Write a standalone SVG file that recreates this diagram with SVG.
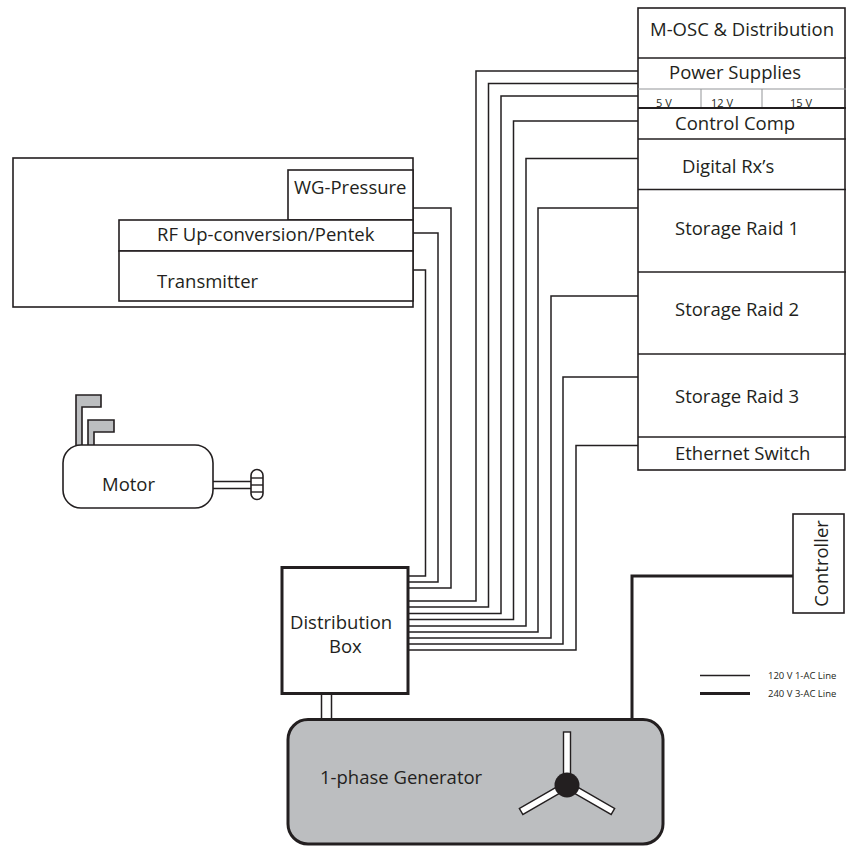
<svg xmlns="http://www.w3.org/2000/svg" width="846" height="846" viewBox="0 0 846 846">
  <style>
    .box { fill: #ffffff; stroke: #231f20; stroke-width: 1.6; }
    .thin { fill: none; stroke: #939598; stroke-width: 1; }
    .wire { fill: none; stroke: #231f20; stroke-width: 1.5; }
    .power { fill: none; stroke: #231f20; stroke-width: 3; }
    .gray { fill: #bcbec0; stroke: #231f20; stroke-width: 1.6; }
    .lbl { font-family: "Open Sans", "Liberation Sans", sans-serif; font-size: 18.5px; fill: #231f20; }
    .small { font-family: "Open Sans", "Liberation Sans", sans-serif; font-size: 11px; fill: #231f20; }
    .legend { font-family: "Open Sans", "Liberation Sans", sans-serif; font-size: 9.5px; fill: #231f20; }
  </style>

  <!-- wiring -->
  <g id="connectors">
    <!-- transmitter rack to distribution box -->
    <path class="wire" d="M413 270 H425.5 V576 H408"/>
    <path class="wire" d="M413 233 H438 V582 H408"/>
    <path class="wire" d="M413 208 H451 V588 H408"/>
    <!-- receiver rack to distribution box -->
    <path class="wire" d="M638 71 H476 V601 H408"/>
    <path class="wire" d="M638 83.5 H488.5 V607 H408"/>
    <path class="wire" d="M638 96 H501 V613.5 H408"/>
    <path class="wire" d="M638 121 H513.5 V619.5 H408"/>
    <path class="wire" d="M638 158.5 H526 V626 H408"/>
    <path class="wire" d="M638 208 H538 V632 H408"/>
    <path class="wire" d="M638 296 H551 V638 H408"/>
    <path class="wire" d="M638 377 H563 V644 H408"/>
    <path class="wire" d="M638 445.5 H576 V650 H408"/>
    <!-- generator feed to distribution box -->
    <rect x="321.5" y="693" width="10" height="27" fill="#ffffff" stroke="#231f20" stroke-width="1.5"/>
    <!-- generator to controller -->
    <path class="power" d="M632 720 V576 H793"/>
  </g>

  <!-- receiver rack -->
  <g id="rack">
    <rect class="box" x="638" y="8" width="207" height="462"/>
    <line x1="638" y1="58" x2="846" y2="58" stroke="#231f20" stroke-width="1.6"/>
    <line class="thin" x1="638" y1="89" x2="846" y2="89"/>
    <line class="thin" x1="701" y1="89" x2="701" y2="108"/>
    <line class="thin" x1="762" y1="89" x2="762" y2="108"/>
    <text class="small" x="656" y="107">5 V</text>
    <text class="small" x="711" y="107">12 V</text>
    <text class="small" x="790" y="107">15 V</text>
    <line x1="638" y1="108" x2="846" y2="108" stroke="#231f20" stroke-width="2"/>
    <line x1="638" y1="139" x2="846" y2="139" stroke="#231f20" stroke-width="1.6"/>
    <line x1="638" y1="189.5" x2="846" y2="189.5" stroke="#231f20" stroke-width="1.6"/>
    <line x1="638" y1="272" x2="846" y2="272" stroke="#231f20" stroke-width="1.6"/>
    <line x1="638" y1="354" x2="846" y2="354" stroke="#231f20" stroke-width="1.6"/>
    <line x1="638" y1="437" x2="846" y2="437" stroke="#231f20" stroke-width="1.6"/>
    <text class="lbl" x="650" y="36">M-OSC &amp; Distribution</text>
    <text class="lbl" x="669" y="79">Power Supplies</text>
    <text class="lbl" x="675" y="129.5">Control Comp</text>
    <text class="lbl" x="682" y="173">Digital Rx’s</text>
    <text class="lbl" x="675" y="235">Storage Raid 1</text>
    <text class="lbl" x="675" y="316">Storage Raid 2</text>
    <text class="lbl" x="675" y="403">Storage Raid 3</text>
    <text class="lbl" x="675" y="460">Ethernet Switch</text>
  </g>

  <!-- transmitter enclosure -->
  <g id="transmitter-rack">
    <rect class="box" x="13" y="158" width="400" height="149"/>
    <rect class="box" x="288" y="170" width="125" height="50"/>
    <rect class="box" x="119" y="220" width="294" height="31"/>
    <rect class="box" x="119" y="251" width="294" height="50"/>
    <text class="lbl" x="294" y="194">WG-Pressure</text>
    <text class="lbl" x="157" y="241">RF Up-conversion/Pentek</text>
    <text class="lbl" x="157" y="288">Transmitter</text>
  </g>

  <!-- motor -->
  <g id="motor">
    <path class="gray" d="M76 446 V395 H101 V407 H82 V446 Z"/>
    <path class="gray" d="M88 446 V420 H114 V432 H94 V446 Z"/>
    <line x1="213" y1="481.5" x2="251" y2="481.5" stroke="#231f20" stroke-width="1.4"/>
    <line x1="213" y1="488.5" x2="251" y2="488.5" stroke="#231f20" stroke-width="1.4"/>
    <rect class="box" x="251" y="469.5" width="12" height="30" rx="6"/>
    <line x1="251" y1="478" x2="263" y2="478" stroke="#231f20" stroke-width="1.4"/>
    <line x1="251" y1="485" x2="263" y2="485" stroke="#231f20" stroke-width="1.4"/>
    <line x1="251" y1="492" x2="263" y2="492" stroke="#231f20" stroke-width="1.4"/>
    <rect class="box" x="63" y="445" width="150" height="63" rx="18"/>
    <text class="lbl" x="102" y="491">Motor</text>
  </g>

  <!-- distribution box -->
  <g id="distribution-box">
    <rect x="282" y="567.5" width="126" height="126" fill="#ffffff" stroke="#231f20" stroke-width="3"/>
    <text class="lbl" x="290" y="628.5">Distribution</text>
    <text class="lbl" x="329" y="653">Box</text>
  </g>

  <!-- generator -->
  <g id="generator">
    <rect x="288" y="719.5" width="375" height="124.5" rx="20" fill="#bcbec0" stroke="#231f20" stroke-width="3"/>
    <text class="lbl" x="320" y="783.5">1-phase Generator</text>
    <g stroke="#231f20" stroke-width="1.4" fill="#ffffff">
      <rect x="563.5" y="732" width="7" height="53"/>
      <rect x="563.5" y="732" width="7" height="53" transform="rotate(120 567 785)"/>
      <rect x="563.5" y="732" width="7" height="53" transform="rotate(240 567 785)"/>
    </g>
    <circle cx="567" cy="785" r="12.5" fill="#231f20"/>
  </g>

  <!-- controller -->
  <g id="controller">
    <rect class="box" x="793" y="514" width="51" height="99" stroke-width="2"/>
    <text class="lbl" transform="translate(828 563.5) rotate(-90)" text-anchor="middle">Controller</text>
  </g>

  <!-- legend -->
  <g id="legend">
    <line x1="700" y1="675.5" x2="750" y2="675.5" stroke="#231f20" stroke-width="1.5"/>
    <line x1="700" y1="693.5" x2="750" y2="693.5" stroke="#231f20" stroke-width="3"/>
    <text class="legend" x="768" y="679">120 V 1-AC Line</text>
    <text class="legend" x="768" y="696.5">240 V 3-AC Line</text>
  </g>
</svg>
